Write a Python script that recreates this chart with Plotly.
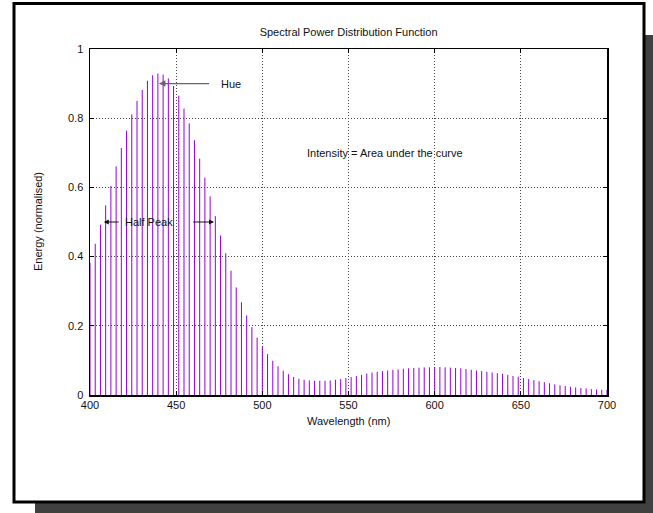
import numpy as np
import plotly.graph_objects as go

# ---------------- data ----------------
wavelength = np.linspace(400, 700, 100)   # nm
energy = [
    0.382, 0.437, 0.492, 0.548, 0.604, 0.661, 0.714, 0.764, 0.811, 0.850,
    0.882, 0.908, 0.924, 0.929, 0.926, 0.915, 0.893, 0.865, 0.828, 0.785,
    0.736, 0.683, 0.628, 0.574, 0.517, 0.461, 0.410, 0.359, 0.311, 0.268,
    0.230, 0.196, 0.166, 0.140, 0.118, 0.099, 0.083, 0.070, 0.060, 0.052,
    0.047, 0.044, 0.042, 0.041, 0.041, 0.041, 0.042, 0.044, 0.046, 0.049,
    0.052, 0.055, 0.058, 0.062, 0.065, 0.067, 0.069, 0.071, 0.0725, 0.074,
    0.076, 0.077, 0.078, 0.079, 0.080, 0.080, 0.081, 0.081, 0.080, 0.079,
    0.078, 0.077, 0.075, 0.073, 0.071, 0.069, 0.067, 0.065, 0.063, 0.061,
    0.058, 0.055, 0.053, 0.049, 0.046, 0.043, 0.040, 0.037, 0.034, 0.031,
    0.028, 0.026, 0.024, 0.022, 0.020, 0.019, 0.017, 0.016, 0.015, 0.015,
]
x_ticks = [400, 450, 500, 550, 600, 650, 700]
y_ticks = [0, 0.2, 0.4, 0.6, 0.8, 1]

title_text = "Spectral Power Distribution Function"
x_title = "Wavelength (nm)"
y_title = "Energy (normalised)"

hue_label = "Hue"
hue_tip, hue_tail, hue_level = 440, 470, 0.9
half_label = "Half Peak"
half_left_tip, half_left_tail = 408, 417.5
half_right_tail, half_right_tip = 459, 472
half_level = 0.5
half_text_x = 434
intensity_label = "Intensity = Area under the curve"
intensity_x, intensity_y = 525, 0.7

# ---------------- layout geometry ----------------
W, H = 653, 513
L, R, T, B = 90, 46, 49, 118
PW, PH = W - L - R, H - T - B


def px(x):
    return (x - L) / PW


def py(y):
    return (H - B - y) / PH


FONT = "Liberation Sans, Arial, Helvetica, sans-serif"
VIOLET = "#9400d3"

# impulses
xs, ys = [], []
for w, e in zip(wavelength, energy):
    xs += [w, w, None]
    ys += [0, e, None]

fig = go.Figure()
fig.add_trace(go.Scatter(
    x=xs, y=ys, mode="lines",
    line=dict(color=VIOLET, width=1),
    hoverinfo="skip", showlegend=False,
))

shapes = [
    # drop shadow
    dict(type="rect", xref="paper", yref="paper",
         x0=px(35), x1=px(670), y0=py(530), y1=py(35),
         fillcolor="#404040", line=dict(width=0), layer="below"),
    # frame
    dict(type="rect", xref="paper", yref="paper",
         x0=px(14), x1=px(644), y0=py(502), y1=py(3.5),
         fillcolor="white", line=dict(color="black", width=3), layer="below"),
]

annotations = [
    # Hue arrow and label
    dict(x=hue_tip, y=hue_level, ax=hue_tail, ay=hue_level,
         xref="x", yref="y", axref="x", ayref="y", text="",
         showarrow=True, arrowhead=2, arrowsize=1, arrowwidth=1.3,
         arrowcolor="#666666", standoff=0, startstandoff=0),
    dict(x=hue_tail + 5, y=hue_level, xref="x", yref="y", text=hue_label,
         showarrow=False, xanchor="left", yanchor="middle",
         font=dict(family=FONT, size=11, color="#111")),
    # Half peak arrows and label
    dict(x=half_left_tip, y=half_level, ax=half_left_tail, ay=half_level,
         xref="x", yref="y", axref="x", ayref="y", text="",
         showarrow=True, arrowhead=2, arrowsize=1, arrowwidth=1,
         arrowcolor="#111", standoff=0, startstandoff=0),
    dict(x=half_right_tip, y=half_level, ax=half_right_tail, ay=half_level,
         xref="x", yref="y", axref="x", ayref="y", text="",
         showarrow=True, arrowhead=2, arrowsize=1, arrowwidth=1,
         arrowcolor="#111", standoff=0, startstandoff=0),
    dict(x=half_text_x, y=half_level, xref="x", yref="y", text=half_label,
         showarrow=False, xanchor="center", yanchor="middle",
         font=dict(family=FONT, size=11, color="#111")),
    # Intensity label
    dict(x=intensity_x, y=intensity_y, xref="x", yref="y", text=intensity_label,
         showarrow=False, xanchor="left", yanchor="middle",
         font=dict(family=FONT, size=11, color="#111")),
    # axis titles
    dict(x=px(348.6), y=py(421), xref="paper", yref="paper", text=x_title,
         showarrow=False, xanchor="center", yanchor="middle",
         font=dict(family=FONT, size=11, color="#111")),
    dict(x=px(38), y=py(222), xref="paper", yref="paper", text=y_title,
         showarrow=False, xanchor="center", yanchor="middle", textangle=-90,
         font=dict(family=FONT, size=11, color="#111")),
]

axis_common = dict(
    showline=True, linecolor="black", linewidth=1.5, mirror="allticks",
    ticks="inside", ticklen=4, tickcolor="black", tickwidth=1,
    showgrid=True, gridcolor="#444444", gridwidth=1, griddash="1px,2px",
    zeroline=False, automargin=False,
    tickfont=dict(family=FONT, size=11, color="#111"),
)

fig.update_layout(
    width=W, height=H,
    margin=dict(l=L, r=R, t=T, b=B, pad=0),
    paper_bgcolor="white", plot_bgcolor="white",
    title=dict(text=title_text, x=px(348.6), xref="paper", xanchor="center",
               y=1 - 32 / H, yref="container", yanchor="middle",
               font=dict(family=FONT, size=11, color="#111")),
    xaxis=dict(range=[400, 700], tickvals=x_ticks, ticktext=[str(v) for v in x_ticks],
               ticklabelstandoff=-1, **axis_common),
    yaxis=dict(range=[0, 1], tickvals=y_ticks, ticktext=[f"{v:g}" for v in y_ticks],
               ticklabelstandoff=3, **axis_common),
    shapes=shapes,
    annotations=annotations,
    showlegend=False,
)

fig.write_html(
    "out.html",
    config={"displayModeBar": False, "staticPlot": True},
    post_script="document.body.style.margin='0';document.body.style.overflow='hidden';",
)
